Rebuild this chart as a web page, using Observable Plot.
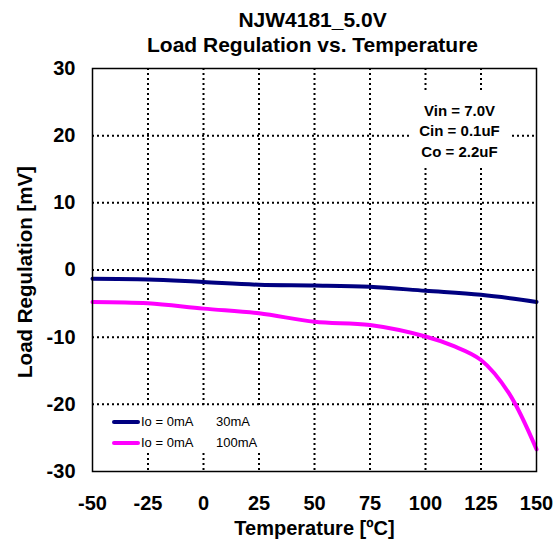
<!DOCTYPE html>
<html>
<head>
<meta charset="utf-8">
<script src="https://cdn.jsdelivr.net/npm/d3@7"></script>
<script src="https://cdn.jsdelivr.net/npm/@observablehq/plot@0.6"></script>
<style>
  body { margin: 0; background: #fff; }
  #wrap { position: relative; width: 560px; height: 545px; font-family: "Liberation Sans", Arial, sans-serif; }
  .legend { position: absolute; left: 100px; top: 408px; width: 178px; height: 45px; box-sizing: border-box;
            padding: 3px 0 0 12px; background: #fff; font-size: 13px; color: #000; }
  .legend div { display: flex; align-items: center; height: 21px; }
  .legend .sw { display: inline-block; width: 28px; height: 4px; border-radius: 2px; margin-right: 1px; }
  .legend .a { width: 75px; }
  .cond { position: absolute; left: 409px; top: 93px; width: 101px; height: 72px; box-sizing: border-box;
          padding-top: 8px; background: #fff; text-align: center; font-size: 15px; font-weight: bold;
          line-height: 20.3px; color: #000; }
</style>
</head>
<body>
<div id="wrap"></div>
<script>
const title1 = "NJW4181_5.0V";
const title2 = "Load Regulation vs. Temperature";
const xLabel = "Temperature [ºC]";
const yLabel = "Load Regulation [mV]";
const conditions = ["Vin = 7.0V", "Cin = 0.1uF", "Co = 2.2uF"];
const xTicks = [-50, -25, 0, 25, 50, 75, 100, 125, 150];
const yTicks = [-30, -20, -10, 0, 10, 20, 30];

const seriesNames = ["Io = 0mA     30mA", "Io = 0mA     100mA"];
const seriesColors = ["#000080", "#ff00ff"];

const temp30 = [-50, -25, 0, 25, 50, 75, 100, 125, 150];
const load30 = [-1.3, -1.4, -1.8, -2.2, -2.3, -2.5, -3.1, -3.7, -4.75];

const temp100 = [-50, -25, 0, 25, 50, 75, 100, 112.5, 125, 137.5, 150];
const load100 = [-4.75, -4.95, -5.75, -6.45, -7.7, -8.2, -9.9, -11.3, -13.4, -18.3, -26.7];

const data = [
  ...temp30.map((t, i) => ({t, v: load30[i], s: seriesNames[0]})),
  ...temp100.map((t, i) => ({t, v: load100[i], s: seriesNames[1]}))
];

const chart = Plot.plot({
  width: 560,
  height: 545,
  marginLeft: 92,
  marginRight: 24,
  marginTop: 68,
  marginBottom: 74,
  style: {fontFamily: "'Liberation Sans', Arial, sans-serif", fontWeight: "bold", fontSize: "20px", color: "#000", background: "#fff"},
  x: {domain: [-50, 150]},
  y: {domain: [-30, 30]},
  color: {domain: seriesNames, range: seriesColors},
  marks: [
    Plot.gridX(xTicks.slice(1, -1), {stroke: "#000", strokeOpacity: 1, strokeWidth: 2, strokeDasharray: "2,3"}),
    Plot.gridY(yTicks.slice(1, -1), {stroke: "#000", strokeOpacity: 1, strokeWidth: 2, strokeDasharray: "2,3"}),
    Plot.line(data, {x: "t", y: "v", z: "s", stroke: "s", strokeWidth: 4, curve: "catmull-rom"}),
    Plot.frame({stroke: "#000", strokeWidth: 1.5}),
    Plot.axisX(xTicks, {tickSize: 0, tickPadding: 24, fontSize: 20, fontWeight: "bold", tickFormat: d => String(d), label: null}),
    Plot.axisY(yTicks, {tickSize: 0, tickPadding: 17, fontSize: 20, fontWeight: "bold", tickFormat: d => String(d), label: null}),
    Plot.text([xLabel], {frameAnchor: "bottom", lineAnchor: "middle", dy: 57, fontSize: 20, fontWeight: "bold"}),
    Plot.text([yLabel], {frameAnchor: "left", lineAnchor: "middle", textAnchor: "middle", rotate: -90, dx: -67, dy: 2, fontSize: 20.5, fontWeight: "bold"}),
    Plot.text([title1], {frameAnchor: "top", lineAnchor: "middle", dy: -48, dx: -2, fontSize: 21, fontWeight: "bold"}),
    Plot.text([title2], {frameAnchor: "top", lineAnchor: "middle", dy: -23, dx: -2, fontSize: 21, fontWeight: "bold"})
  ]
});
const wrap = document.getElementById("wrap");
wrap.appendChild(chart);

const cond = document.createElement("div");
cond.className = "cond";
conditions.forEach(c => { const d = document.createElement("div"); d.textContent = c; cond.appendChild(d); });
wrap.appendChild(cond);

const legend = document.createElement("div");
legend.className = "legend";
seriesNames.forEach((name, i) => {
  const row = document.createElement("div");
  const sw = document.createElement("span");
  sw.className = "sw";
  sw.style.background = seriesColors[i];
  const [a, b] = name.split(/\s{2,}/);
  const sa = document.createElement("span"); sa.className = "a"; sa.textContent = a;
  const sb = document.createElement("span"); sb.textContent = b;
  row.append(sw, sa, sb);
  legend.appendChild(row);
});
wrap.appendChild(legend);
</script>
</body>
</html>
